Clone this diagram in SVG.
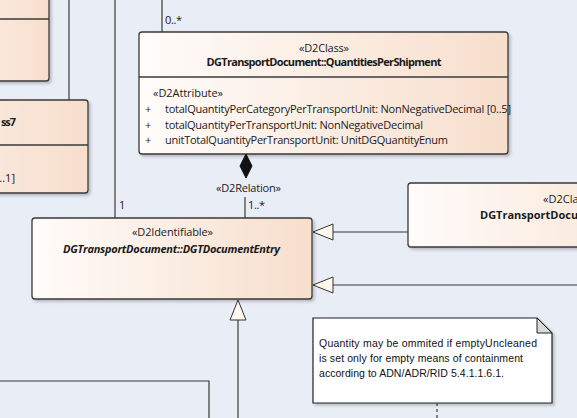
<svg xmlns="http://www.w3.org/2000/svg" width="577" height="418" viewBox="0 0 577 418">
<defs>
<linearGradient id="g" x1="0" y1="0" x2="1" y2="0">
<stop offset="0" stop-color="#FFFCFA"/>
<stop offset="1" stop-color="#F7DECC"/>
</linearGradient>
<filter id="sh" x="-10%" y="-10%" width="130%" height="130%">
<feDropShadow dx="2" dy="2" stdDeviation="1.5" flood-color="#000" flood-opacity="0.22"/>
</filter>
<marker id="gen" markerWidth="24" markerHeight="20" refX="21" refY="9" orient="auto" markerUnits="userSpaceOnUse">
<path d="M21,9 L1,1 L1,17 Z" fill="#FFF8EE" stroke="#333" stroke-width="1"/>
</marker>
</defs>
<style>
.bg{fill:#E9EDF6}
.node{fill:url(#g);stroke:#3a3a3a;stroke-width:1.3;filter:url(#sh)}
.sep{stroke:#3a3a3a;stroke-width:1.3}
.ln{fill:none;stroke:#3a3a3a;stroke-width:1.2}
.t{font-family:"Open Sans","Noto Sans","Liberation Sans",sans-serif;font-size:11px;fill:#1a1a1a}
.b{font-weight:bold}
.i{font-style:italic}
.n{font-family:"Liberation Sans","Open Sans",sans-serif;font-size:10.5px;fill:#111}
</style>
<rect class="bg" x="0" y="0" width="577" height="418"/>

<g id="node-topleft">
<rect class="node" x="-100" y="-10" width="149" height="91" rx="3"/>
<line class="sep" x1="0" y1="19" x2="49" y2="19"/>
</g>

<g id="node-class7">
<rect class="node" x="-200" y="100" width="288" height="93" rx="3"/>
<line class="sep" x1="0" y1="145" x2="88" y2="145"/>
<text class="t b" x="1" y="126" textLength="15">ss7</text>
<text class="t" x="15" y="182" text-anchor="end">..1]</text>
</g>

<g id="node-quantities">
<rect class="node" x="139" y="32" width="369" height="122" rx="3"/>
<line class="sep" x1="139" y1="77" x2="508" y2="77"/>
<text class="t" x="324" y="52" text-anchor="middle" textLength="50">«D2Class»</text>
<text class="t b" x="324" y="66" text-anchor="middle" textLength="235">DGTransportDocument::QuantitiesPerShipment</text>
<text class="t" x="153" y="97" textLength="70">«D2Attribute»</text>
<text class="t" x="145" y="113">+</text>
<text class="t" x="145" y="129">+</text>
<text class="t" x="145" y="144">+</text>
<text class="t" x="165" y="113" textLength="346">totalQuantityPerCategoryPerTransportUnit: NonNegativeDecimal [0..5]</text>
<text class="t" x="165" y="129" textLength="258">totalQuantityPerTransportUnit: NonNegativeDecimal</text>
<text class="t" x="165" y="144" textLength="283">unitTotalQuantityPerTransportUnit: UnitDGQuantityEnum</text>
</g>

<g id="node-entry">
<rect class="node" x="32" y="218" width="280" height="81" rx="3"/>
<text class="t" x="172.5" y="236" text-anchor="middle" textLength="81">«D2Identifiable»</text>
<text class="t b i" x="171.5" y="253" text-anchor="middle" textLength="217">DGTransportDocument::DGTDocumentEntry</text>
</g>

<g id="node-right">
<rect class="node" x="408" y="183" width="300" height="64" rx="3"/>
<text class="t" x="543" y="203">«D2Cla</text>
<text class="t b" x="480" y="219">DGTransportDocu</text>
</g>

<g id="node-bottomleft">
<path class="ln" d="M0,381 H209 V418" stroke="#555"/>
</g>

<g id="note">
<path d="M313,318 H537 L552,333 V403 H313 Z" fill="#FFFFFF" stroke="#222" stroke-width="1.2" filter="url(#sh)"/>
<path d="M537,318 V333 H552 Z" fill="#D9D9D9" stroke="#222" stroke-width="1"/>
<text class="n" x="319" y="347" textLength="218">Quantity may be ommited if emptyUncleaned</text>
<text class="n" x="319" y="362" textLength="204">is set only for empty means of containment</text>
<text class="n" x="319" y="377" textLength="185">according to ADN/ADR/RID 5.4.1.1.6.1.</text>
</g>

<g id="connectors">
<line class="ln" x1="69" y1="0" x2="69" y2="100"/>
<line class="ln" x1="115" y1="0" x2="115" y2="218"/>
<line class="ln" x1="162" y1="0" x2="162" y2="32"/>
<line class="ln" x1="245" y1="197" x2="245" y2="218"/>
<path d="M246,154 L252,166 L246,178 L240,166 Z" fill="#111" stroke="#111" stroke-width="1"/>
<line class="ln" x1="408" y1="232" x2="313" y2="232" marker-end="url(#gen)"/>
<line class="ln" x1="577" y1="285" x2="313" y2="285" marker-end="url(#gen)"/>
<line class="ln" x1="238" y1="418" x2="238" y2="300" marker-end="url(#gen)"/>
<line class="ln" x1="437" y1="403" x2="437" y2="418" stroke-dasharray="3,3"/>
<text class="t" x="165" y="24" textLength="17">0..*</text>
<text class="t" x="119" y="209">1</text>
<text class="t" x="248" y="209" textLength="17">1..*</text>
<text class="t" x="216" y="192" textLength="65">«D2Relation»</text>
</g>
</svg>
